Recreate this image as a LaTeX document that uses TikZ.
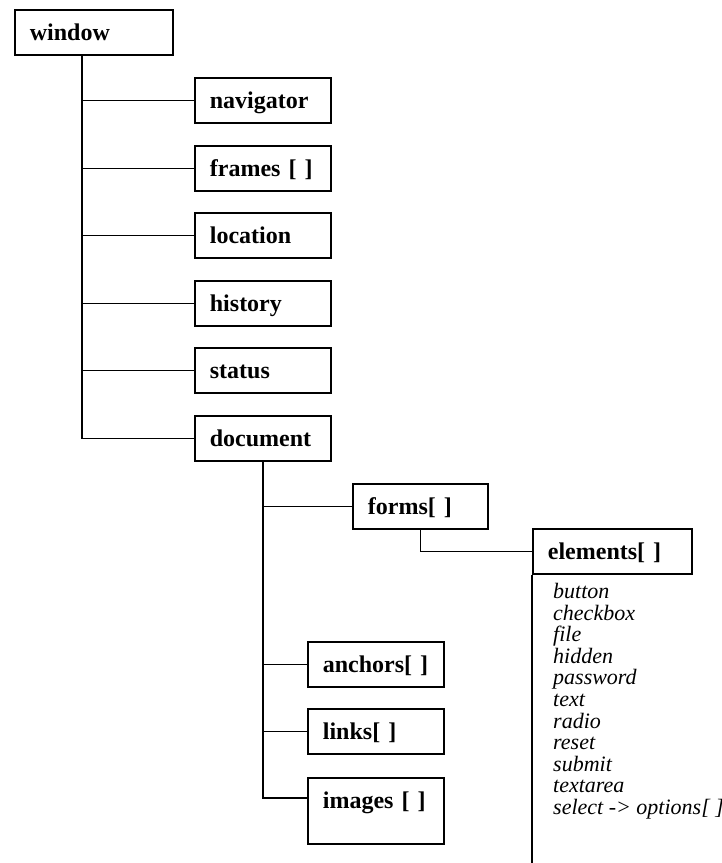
\documentclass[tikz,border=0pt]{standalone}
\usepackage{fontspec}
\setmainfont{Liberation Serif}
\usetikzlibrary{calc}
\begin{document}
\begin{tikzpicture}[x=1pt,y=-1pt,
  box/.style={draw, line width=1.8pt, anchor=north west, inner xsep=15pt, inner ysep=0pt,
    text height=31pt, text depth=14pt, align=left,
    font=\fontsize{24}{26}\selectfont\bfseries},
  conn/.style={line width=1.8pt}]
\useasboundingbox (0,0) rectangle (721,863);
\node[box, text width=128pt] (window) at (14,9) {window};
\node[box, text width=106pt] (navigator) at (194,77) {navigator};
\node[box, text width=106pt] (frames) at (194,145) {frames [ ]};
\node[box, text width=106pt] (location) at (194,212) {location};
\node[box, text width=106pt] (history) at (194,280) {history};
\node[box, text width=106pt] (status) at (194,347) {status};
\node[box, text width=106pt] (document) at (194,415) {document};
\node[box, text width=105pt] (forms) at (352,483) {forms[ ]};
\node[box, text width=129pt] (elements) at (532,528) {elements[ ]};
\node[box, text width=106pt] (anchors) at (307,641) {anchors[ ]};
\node[box, text width=106pt] (links) at (307,708) {links[ ]};
\node[box, text width=106pt, text depth=35pt] (images) at (307,777) {images [ ]};
\node[anchor=north west, inner sep=0pt, align=left,
  font=\fontsize{22}{21.6}\selectfont\itshape] (elist) at (553,583)
  {button\\checkbox\\file\\hidden\\password\\text\\radio\\reset\\submit\\textarea\\select -> options[ ]};
\coordinate (wtrunk) at ($(window.south west)+(68,0)$);
\coordinate (imgin) at ($(images.north west)+(0,21)$);
\coordinate (elend) at ($(elements.south west)+(0,300)$);
\draw[conn] (wtrunk) |- (document.west);
\foreach \n in {navigator,frames,location,history,status}
  \draw[conn] (wtrunk) |- (\n.west);
\draw[conn] (document.south) |- (imgin);
\foreach \n in {forms,anchors,links}
  \draw[conn] (document.south) |- (\n.west);
\draw[conn] (forms.south) |- (elements.west);
\draw[conn] (elements.south west) -- (elend);
\end{tikzpicture}
\end{document}
